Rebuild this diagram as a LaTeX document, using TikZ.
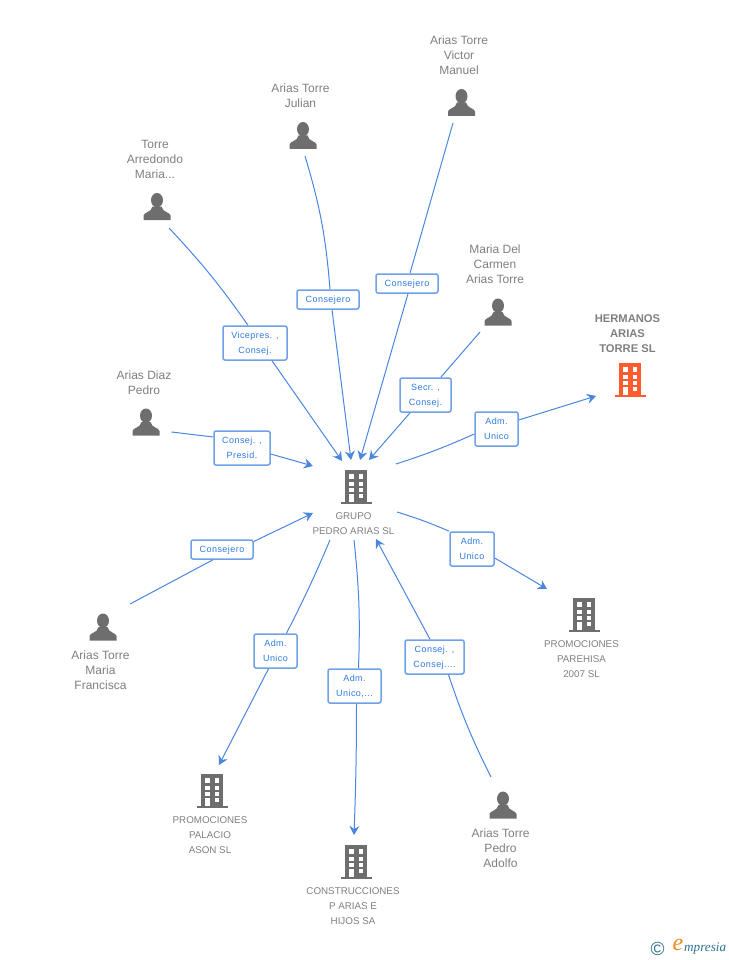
\documentclass[tikz,border=0pt]{standalone}
\usepackage{fontspec}
\setmainfont{Liberation Sans}
\newfontfamily\logofont{Liberation Serif}
\newfontfamily\rolefont[LetterSpace=5]{Liberation Sans}
\usepackage{tikz}
\usetikzlibrary{calc}
\usetikzlibrary{arrows.meta}
\definecolor{icongray}{HTML}{6E6E6E}
\definecolor{textgray}{HTML}{7F7F7F}
\definecolor{linkblue}{HTML}{4A86E0}
\definecolor{tagblue}{HTML}{2F7BE0}
\definecolor{tagline}{HTML}{6FA0E8}
\definecolor{mainorange}{HTML}{FF5B2E}
\definecolor{logoteal}{HTML}{2E7090}
\definecolor{logoorange}{HTML}{F08A1D}
\tikzset{
	personicon/.pic={
		\fill[icongray] (0,-6.3) ellipse (6 and 7.2);
		\fill[icongray] (-13.5,13.5) -- (-13.5,9) .. controls (-13,5.5) and (-5.5,6) .. (-4.5,0) -- (4.5,0) .. controls (5.5,6) and (13,5.5) .. (13.5,9) -- (13.5,13.5) -- cycle;
	},
	buildingicon/.pic={
		\fill[pic actions] (-11,-17) rectangle (11.3,15);
		\fill[pic actions] (-15.3,15) rectangle (15.7,17);
		\foreach \wy/\wh in {-13/4.7,-5.3/4.3,1.3/3.4,7/4.2}{
			\fill[white] (2.7,\wy) rectangle (7.3,\wy+\wh);
		}
		\foreach \wy/\wh in {-13/4.7,-5.3/4.3,1.3/3.4,7/8}{
			\fill[white] (-7,\wy) rectangle (-2.3,\wy+\wh);
		}
	},
	namelabel/.style={text=textgray,font=\fontsize{12}{15}\selectfont,align=center,inner sep=0pt},
	firmlabel/.style={text=textgray,font=\fontsize{9.8}{15}\selectfont,align=center,inner sep=0pt},
	mainlabel/.style={text=textgray,font=\bfseries\fontsize{11.2}{15}\selectfont,align=center,inner sep=0pt},
	rolebox/.style={draw=tagline,line width=1.5pt,rounded corners=2pt,fill=white,text=tagblue,font=\rolefont\fontsize{9}{15}\selectfont,align=center,inner sep=0pt,text depth=0pt,minimum height=#1},
	rolebox/.default=34pt,
	link/.style={draw=linkblue,line width=1pt},
	linkto/.style={link,-{Stealth[length=9pt,width=10pt,inset=3pt]}},
}

\begin{document}
\begin{tikzpicture}[x=1pt,y=-1pt]
	\useasboundingbox (0,0) rectangle (728,960);

	\node (grupo) at (356,487) {};
	\node (hermanos) at (630,380) {};
	\node (parehisa) at (584,615) {};
	\node (palacio) at (212,791) {};
	\node (construcciones) at (356,862) {};

	\node (victor) at (461.5,102.5) {};
	\node (julian) at (303,135.5) {};
	\node (arredondo) at (157,206.5) {};
	\node (carmen) at (498,312) {};
	\node (diaz) at (146,422) {};
	\node (francisca) at (103,627) {};
	\node (adolfo) at (503,805) {};

	\pic[fill=icongray] at (grupo) {buildingicon};
	\pic[fill=mainorange] at (hermanos) {buildingicon};
	\pic[fill=icongray] at (parehisa) {buildingicon};
	\pic[fill=icongray] at (palacio) {buildingicon};
	\pic[fill=icongray] at (construcciones) {buildingicon};
	\foreach \who in {victor,julian,arredondo,carmen,diaz,francisca,adolfo}{
		\pic at (\who) {personicon};
	}

	\node[firmlabel] (pgrupo) at ($(grupo)+(-2.5,37)$) {GRUPO\\PEDRO ARIAS SL};
	\node[mainlabel] (phermanos) at ($(hermanos)+(-2.5,-46)$) {HERMANOS\\ARIAS\\TORRE SL};
	\node[firmlabel] (pparehisa) at ($(parehisa)+(-2.5,44)$) {PROMOCIONES\\PAREHISA\\2007 SL};
	\node[firmlabel] (ppalacio) at ($(palacio)+(-2,44)$) {PROMOCIONES\\PALACIO\\ASON SL};
	\node[firmlabel] (pconstrucciones) at ($(construcciones)+(-3,44)$) {CONSTRUCCIONES\\P ARIAS E\\HIJOS SA};

	\node[namelabel] (pvictor) at ($(victor)+(-2.5,-47.5)$) {Arias Torre\\Victor\\Manuel};
	\node[namelabel] (pjulian) at ($(julian)+(-2.5,-40)$) {Arias Torre\\Julian};
	\node[namelabel] (parredondo) at ($(arredondo)+(-2,-47)$) {Torre\\Arredondo\\Maria...};
	\node[namelabel] (pcarmen) at ($(carmen)+(-3,-48)$) {Maria Del\\Carmen\\Arias Torre};
	\node[namelabel] (pdiaz) at ($(diaz)+(-2,-39.5)$) {Arias Diaz\\Pedro};
	\node[namelabel] (pfrancisca) at ($(francisca)+(-2.5,43)$) {Arias Torre\\Maria\\Francisca};
	\node[namelabel] (padolfo) at ($(adolfo)+(-2.5,43)$) {Arias Torre\\Pedro\\Adolfo};

	% free ends of the lines
	\coordinate (svictor) at ($(victor)+(-8.5,20.5)$);
	\coordinate (sjulian) at ($(julian)+(2,20.5)$);
	\coordinate (sarredondo) at ($(arredondo)+(12,21.5)$);
	\coordinate (scarmen) at ($(carmen)+(-18,20)$);
	\coordinate (sdiaz) at ($(diaz)+(25.5,10)$);
	\coordinate (sfrancisca) at ($(francisca)+(27,-23)$);
	\coordinate (sadolfo) at ($(adolfo)+(-12,-28)$);

	\coordinate (gvictor) at ($(grupo)+(4,-27)$);
	\coordinate (gjulian) at ($(grupo)+(-5,-27)$);
	\coordinate (garredondo) at ($(grupo)+(-14,-26)$);
	\coordinate (gcarmen) at ($(grupo)+(13,-27)$);
	\coordinate (gdiaz) at ($(grupo)+(-43,-21)$);
	\coordinate (gfrancisca) at ($(grupo)+(-43,26)$);
	\coordinate (gadolfo) at ($(grupo)+(20,52)$);
	\coordinate (ghermanos) at ($(grupo)+(40,-23)$);
	\coordinate (gparehisa) at ($(grupo)+(41,25)$);
	\coordinate (gpalacio) at ($(grupo)+(-26,53)$);
	\coordinate (gconstrucciones) at ($(grupo)+(-2,53)$);

	\coordinate (ehermanos) at ($(hermanos)+(-34,16)$);
	\coordinate (eparehisa) at ($(parehisa)+(-37,-26)$);
	\coordinate (epalacio) at ($(palacio)+(7,-26)$);
	\coordinate (econstrucciones) at ($(construcciones)+(-2,-27)$);

	\node[rolebox=19pt,minimum width=62pt] (rvictor) at (407,283.5) {Consejero};
	\node[rolebox=19pt,minimum width=62pt] (rjulian) at (328,299.5) {Consejero};
	\node[rolebox,minimum width=64pt] (rarredondo) at (255,343) {Vicepres. ,\\Consej.};
	\node[rolebox,minimum width=51pt] (rcarmen) at (425.5,395) {Secr. ,\\Consej.};
	\node[rolebox,minimum width=56pt] (rdiaz) at (242,448) {Consej. ,\\Presid.};
	\node[rolebox=19pt,minimum width=62pt] (rfrancisca) at (222,549.5) {Consejero};
	\node[rolebox,minimum width=43pt] (rhermanos) at (496.5,429) {Adm.\\Unico};
	\node[rolebox,minimum width=44pt] (rparehisa) at (472,549) {Adm.\\Unico};
	\node[rolebox,minimum width=43pt] (rpalacio) at (275.5,651) {Adm.\\Unico};
	\node[rolebox,minimum width=53pt] (rconstrucciones) at (354.5,686) {Adm.\\Unico,...};
	\node[rolebox,minimum width=59pt] (radolfo) at (434.5,657) {Consej. ,\\Consej....};

	\draw[link] (svictor) -- ($(rvictor.north)+(3,0)$);
	\draw[linkto] ($(rvictor.south)+(1,0)$) -- (gvictor);
	\draw[link] (sjulian) to[bend left=6] ($(rjulian.north)+(2,0)$);
	\draw[linkto] ($(rjulian.south)+(4,0)$) -- (gjulian);
	\draw[link] (sarredondo) to[bend left=4] ($(rarredondo.north)+(-7,0)$);
	\draw[linkto] ($(rarredondo.south)+(17,0)$) -- (garredondo);
	\draw[link] (scarmen) -- (rcarmen);
	\draw[linkto] (rcarmen) -- (gcarmen);
	\draw[link] (sdiaz) -- ($(rdiaz.west)+(0,-11)$);
	\draw[linkto] ($(rdiaz.east)+(0,6)$) -- (gdiaz);
	\draw[link] (sfrancisca) -- ($(rfrancisca.south)+(-9,0)$);
	\draw[linkto] ($(rfrancisca.east)+(0,-8)$) -- (gfrancisca);
	\draw[link] (ghermanos) to[bend right=3] ($(rhermanos.west)+(0,5)$);
	\draw[linkto] ($(rhermanos.east)+(0,-9)$) -- (ehermanos);
	\draw[link] (gparehisa) to[bend left=3] (rparehisa.north west);
	\draw[linkto] ($(rparehisa.east)+(0,9)$) -- (eparehisa);
	\draw[link] (gpalacio) to[bend left=2] ($(rpalacio.north)+(11,0)$);
	\draw[linkto] ($(rpalacio.south)+(-7,0)$) -- (epalacio);
	\draw[link] (gconstrucciones) to[bend left=4] ($(rconstrucciones.north)+(4,0)$);
	\draw[linkto] ($(rconstrucciones.south)+(2,0)$) to[bend left=1] (econstrucciones);
	\draw[link] (sadolfo) to[bend left=4] ($(radolfo.south)+(14,0)$);
	\draw[linkto] ($(radolfo.north)+(-4.5,0)$) -- (gadolfo);

	\node[text=logoteal,font=\fontsize{19}{19}\selectfont,inner sep=0pt] (logoc) at (657.5,949) {©};
	\node[text=logoorange,font=\logofont\itshape\fontsize{24}{24}\selectfont,inner sep=0pt] (logoe) at (678,945) {e};
	\node[text=logoteal,font=\logofont\itshape\fontsize{13.2}{13}\selectfont,inner sep=0pt,anchor=west] (logotext) at (684,949) {mpresia};
\end{tikzpicture}
\end{document}
